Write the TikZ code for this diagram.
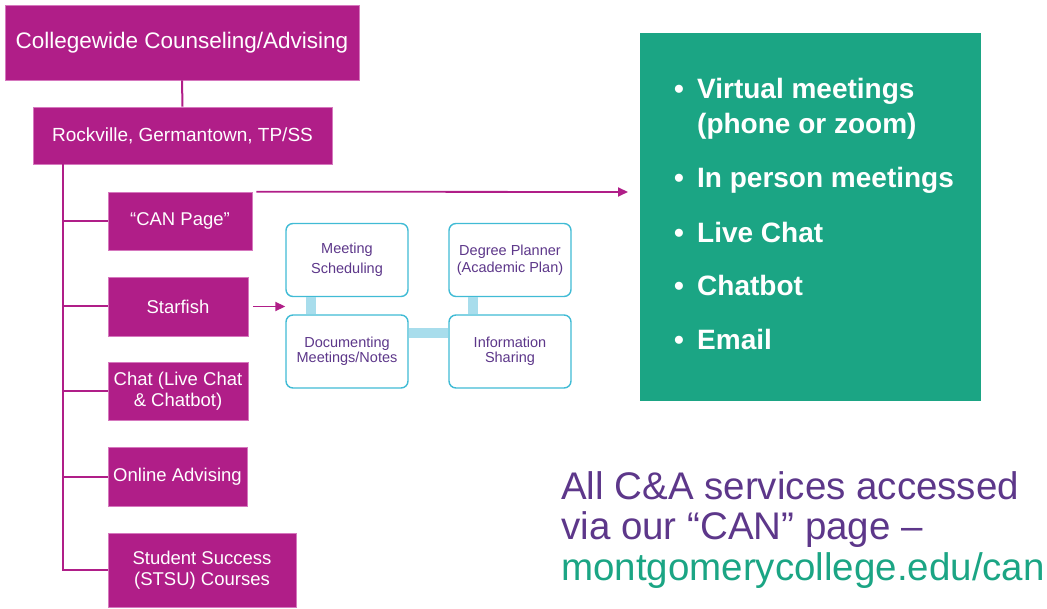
\documentclass[tikz,border=0pt]{standalone}
\usepackage{fontspec}
\setmainfont{Liberation Sans}
\usetikzlibrary{arrows.meta,calc}
\definecolor{mag}{RGB}{176,30,136}
\definecolor{magedge}{RGB}{214,120,190}
\definecolor{grn}{RGB}{27,165,132}
\definecolor{purp}{RGB}{93,55,138}
\definecolor{cyanedge}{RGB}{64,187,213}
\definecolor{cyanbar}{RGB}{168,221,236}
\tikzset{
  magbox/.style={fill=mag, draw=magedge, line width=0.6pt, text=white, align=center, inner sep=0pt, font=\fontsize{18.5}{21}\selectfont},
  cybox/.style={draw=cyanedge, line width=1.4pt, rounded corners=7pt, fill=white, text=purp, align=center, inner sep=0pt, minimum width=122pt, minimum height=73pt},
  tree/.style={draw=mag, line width=2pt},
  magarrow/.style={draw=mag, line width=1.8pt, -{Triangle[length=10pt,width=9pt]}},
  cybar/.style={draw=cyanbar, line width=10pt},
  itemtxt/.style={anchor=base west, text=white, inner sep=0pt, font=\fontsize{28}{34}\selectfont\bfseries},
  bulletmark/.style={anchor=base, text=white, inner sep=0pt, font=\fontsize{28}{34}\selectfont\bfseries},
}
\begin{document}
\begin{tikzpicture}[x=1pt,y=-1pt]
\useasboundingbox (0,0) rectangle (1047,609);
% hierarchy
\node[magbox, minimum width=354pt, minimum height=75pt, font=\fontsize{22.5}{26}\selectfont] (col) at (182,42.5) {Collegewide Counseling/Advising};
\node[magbox, minimum width=299pt, minimum height=57pt, font=\fontsize{19}{22}\selectfont] (rock) at (182.5,135.5) {Rockville, Germantown, TP/SS};
\draw[tree] (col.south) -- (rock.north);
\node[magbox, minimum width=144pt, minimum height=58pt] (can) at (180,221) {“CAN Page”};
\node[magbox, minimum width=140pt, minimum height=59pt] (star) at (178,306.5) {Starfish};
\node[magbox, minimum width=140pt, minimum height=58pt] (chat) at (178,391) {Chat (Live Chat\\\& Chatbot)};
\node[magbox, minimum width=139pt, minimum height=59pt] (online) at (177.5,476.5) {Online Advising};
\node[magbox, minimum width=188pt, minimum height=74pt, font=\fontsize{18.5}{20.5}\selectfont] (stsu) at (202,570) {Student Success\\(STSU) Courses};
\coordinate (trunk) at (63,164);
\foreach \c in {can,star,chat,online,stsu} \draw[tree] (trunk) |- (\c.west);
% Starfish features
\node[cybox, font=\fontsize{14.5}{20}\selectfont] (meet) at (347,260) {Meeting\\Scheduling};
\node[cybox, font=\fontsize{14.5}{16.5}\selectfont] (deg) at (510,260) {Degree Planner\\(Academic Plan)};
\node[cybox, font=\fontsize{14.5}{14.5}\selectfont] (doc) at (347,351.5) {Documenting\\Meetings/Notes};
\node[cybox, font=\fontsize{14.5}{15}\selectfont] (info) at (510,351.5) {Information\\Sharing};
\draw[cybar] ([xshift=-36pt]meet.south) -- ([xshift=-36pt]doc.north);
\draw[cybar] ([xshift=-37pt]deg.south) -- ([xshift=-37pt]info.north);
\draw[cybar] ([yshift=18pt]doc.east) -- ([yshift=18pt]info.west);
\draw[magarrow] ([xshift=5pt]star.east) -- (star.east -| meet.west);
% channels box
\node[fill=grn, minimum width=341pt, minimum height=368pt, inner sep=0pt] (green) at (810.5,217) {};
\coordinate (canend) at (628,192);
\draw[magarrow] ([xshift=4pt]can.north east) -- (canend);
\node[itemtxt] (i1) at (697,99) {Virtual meetings};
\node[itemtxt] (i1b) at (697,134) {(phone or zoom)};
\node[itemtxt] (i2) at (697,188) {In person meetings};
\node[itemtxt] (i3) at (697,243) {Live Chat};
\node[itemtxt] (i4) at (697,296) {Chatbot};
\node[itemtxt] (i5) at (697,350) {Email};
\foreach \y/\n in {99/1,188/2,243/3,296/4,350/5} \node[bulletmark] (b\n) at (679,\y) {•};
% footer text
\node[anchor=base west, align=left, inner sep=0pt, text=purp, font=\fontsize{38.5}{40.5}\selectfont] (foot) at (561,580) {All C\&A services accessed\\via our “CAN” page –\\\textcolor{grn}{montgomerycollege.edu/can}};
\end{tikzpicture}
\end{document}
